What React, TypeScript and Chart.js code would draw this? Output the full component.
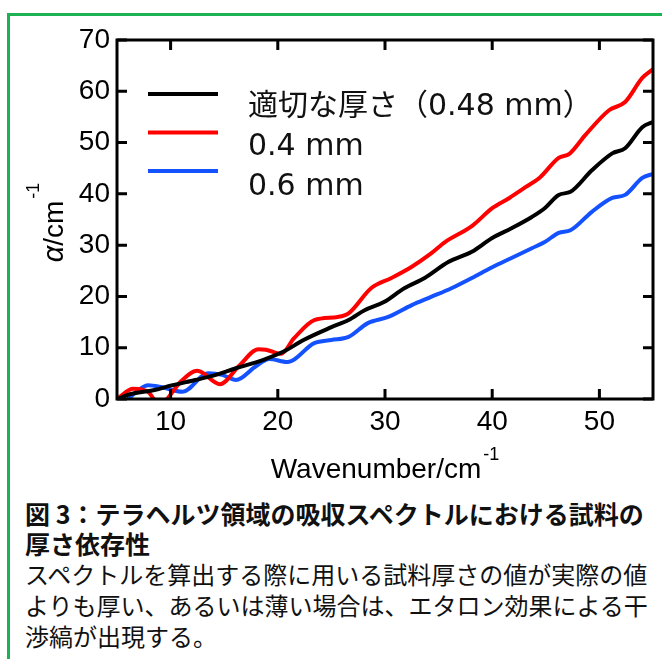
import React, { useEffect, useRef } from "react";
import { Chart, registerables } from "chart.js";

Chart.register(...registerables);

// ---- data ----
const seriesLabels = ["適切な厚さ（0.48 mm）", "0.4 mm", "0.6 mm"];
const seriesColors = ["#000000", "#ff0000", "#1552ff"];

const blackX = [5.1, 6, 8.6, 9.8, 12.3, 13.9, 16.1, 18.6, 20.5, 22.4, 25, 26.6, 28.1, 29.9, 31.8, 33.7, 35.9, 38.1, 40, 41.8, 43.7, 44.9, 46.2, 47.3, 49.3, 51.2, 52.4, 54, 55];
const blackY = [0, 0.8, 1.8, 2.5, 3.7, 4.5, 6.0, 7.6, 9.2, 11.5, 14.0, 15.4, 17.3, 18.9, 21.6, 23.6, 26.7, 28.7, 31.4, 33.3, 35.5, 37.2, 39.8, 40.4, 44.6, 47.9, 48.9, 53.0, 54.0];

const redX = [5.1, 6.5, 7.9, 8.4, 9.05, 9.7, 11, 12.5, 14.6, 16.4, 18.2, 18.9, 20.3, 21.5, 23.4, 25.6, 26.6, 28.7, 30.6, 32.5, 34.3, 35.6, 38.1, 40, 41.6, 43.1, 44.4, 46.2, 47.2, 48.7, 50.9, 52.4, 54, 55];
const redY = [0.2, 2.0, 1.4, 0.1, -1.2, 0.1, 3.5, 5.5, 2.9, 6.5, 9.7, 9.6, 8.8, 11.8, 15.4, 16.0, 16.7, 21.6, 23.6, 25.8, 28.4, 30.6, 33.7, 37.2, 39.2, 41.3, 43.1, 47.0, 47.8, 51.5, 56.3, 57.9, 62.6, 64.3];

const blueX = [6, 7.9, 9.2, 11.1, 13.5, 14.8, 16.1, 17.9, 19.2, 20.9, 23.4, 25, 26.6, 28.4, 30.3, 32.5, 34.3, 36.2, 38.1, 40, 41.8, 43.7, 44.9, 46.2, 47.3, 49.3, 51.2, 52.4, 54, 55];
const blueY = [0, 2.7, 2.3, 1.4, 5.0, 4.7, 3.7, 6.3, 7.8, 7.2, 10.9, 11.5, 12.1, 14.8, 16.0, 18.3, 19.9, 21.6, 23.6, 25.7, 27.5, 29.4, 30.6, 32.4, 32.9, 36.5, 39.2, 39.8, 43.1, 43.9];

const xTicks = [10, 20, 30, 40, 50];
const yTicks = [0, 10, 20, 30, 40, 50, 60, 70];
const xMin = 5;
const xMax = 55;
const yMin = 0;
const yMax = 70;

const captionTitle = ["図 3：テラヘルツ領域の吸収スペクトルにおける試料の", "厚さ依存性"];
const captionBody = [
  "スペクトルを算出する際に用いる試料厚さの値が実際の値",
  "よりも厚い、あるいは薄い場合は、エタロン効果による干",
  "渉縞が出現する。",
];

const zip = (xs: number[], ys: number[]) => xs.map((x, i) => ({ x, y: ys[i] }));

const TICK_FONT = "'Liberation Sans', Arial, sans-serif";

const framePlugin = {
  id: "frameTicks",
  afterDatasetsDraw(chart: any) {
    const { ctx, chartArea } = chart;
    const { left, right, top, bottom } = chartArea;
    const xs = chart.scales.x;
    const ys = chart.scales.y;
    ctx.save();
    ctx.strokeStyle = "#000";
    ctx.lineWidth = 3;
    ctx.lineCap = "butt";
    ctx.strokeRect(left, top, right - left, bottom - top);
    ctx.beginPath();
    for (const v of xTicks) {
      const p = xs.getPixelForValue(v);
      ctx.moveTo(p, bottom);
      ctx.lineTo(p, bottom - 10);
      ctx.moveTo(p, top);
      ctx.lineTo(p, top + 10);
    }
    for (const v of yTicks) {
      const p = ys.getPixelForValue(v);
      ctx.moveTo(left, p);
      ctx.lineTo(left + 10, p);
      ctx.moveTo(right, p);
      ctx.lineTo(right - 10, p);
    }
    ctx.stroke();
    ctx.restore();
  },
  afterDraw(chart: any) {
    const { ctx, chartArea } = chart;
    const { left, right, top, bottom } = chartArea;
    ctx.save();
    ctx.fillStyle = "#000";
    ctx.textBaseline = "alphabetic";
    ctx.textAlign = "left";

    // x title
    const main = "Wavenumber/cm";
    const sup = "-1";
    ctx.font = `28px ${TICK_FONT}`;
    const wMain = ctx.measureText(main).width;
    ctx.font = `18px ${TICK_FONT}`;
    const wSup = ctx.measureText(sup).width;
    const cx = (left + right) / 2;
    const sx = cx - (wMain + 2 + wSup) / 2;
    ctx.font = `28px ${TICK_FONT}`;
    ctx.fillText(main, sx, 478);
    ctx.font = `18px ${TICK_FONT}`;
    ctx.fillText(sup, sx + wMain + 2, 460);

    // y title (rotated)
    ctx.font = `italic 29px ${TICK_FONT}`;
    const wA = ctx.measureText("α").width;
    ctx.font = `28px ${TICK_FONT}`;
    const wC = ctx.measureText("/cm").width;
    ctx.font = `18px ${TICK_FONT}`;
    const wS = ctx.measureText("-1").width;
    const total = wA + wC + 2 + wS;
    const cy = (top + bottom) / 2 + 3;
    ctx.translate(63, cy + total / 2);
    ctx.rotate(-Math.PI / 2);
    ctx.font = `italic 29px ${TICK_FONT}`;
    ctx.fillText("α", 0, 0);
    ctx.font = `28px ${TICK_FONT}`;
    ctx.fillText("/cm", wA, 0);
    ctx.font = `18px ${TICK_FONT}`;
    ctx.fillText("-1", wA + wC + 2, -24);
    ctx.restore();

    // legend
    ctx.save();
    chart.data.datasets.forEach((ds: any, i: number) => {
      const ly = 94 + i * 38.5;
      ctx.strokeStyle = ds.borderColor;
      ctx.lineWidth = 4;
      ctx.beginPath();
      ctx.moveTo(148, ly);
      ctx.lineTo(218, ly);
      ctx.stroke();
      ctx.fillStyle = "#111";
      ctx.font = "30px 'DejaVu Sans', 'Noto Sans CJK JP', sans-serif";
      ctx.textBaseline = "alphabetic";
      ctx.textAlign = "left";
      ctx.fillText(ds.label, 248, 115 + i * 40);
    });
    ctx.restore();
  },
};

export default function App() {
  const ref = useRef<HTMLCanvasElement | null>(null);

  useEffect(() => {
    if (!ref.current) return;
    const datasets = [
      { label: seriesLabels[0], data: zip(blackX, blackY), borderColor: seriesColors[0] },
      { label: seriesLabels[1], data: zip(redX, redY), borderColor: seriesColors[1] },
      { label: seriesLabels[2], data: zip(blueX, blueY), borderColor: seriesColors[2] },
    ].map((d) => ({
      ...d,
      borderWidth: 4,
      pointRadius: 0,
      fill: false,
      showLine: true,
      cubicInterpolationMode: "monotone" as const,
      clip: 0,
    }));

    const chart = new Chart(ref.current, {
      type: "scatter",
      data: { datasets },
      options: {
        animation: false,
        responsive: false,
        maintainAspectRatio: false,
        layout: { padding: { left: 0, right: 9, top: 40, bottom: 0 } },
        plugins: { legend: { display: false }, tooltip: { enabled: false } },
        scales: {
          x: {
            type: "linear",
            min: xMin,
            max: xMax,
            afterBuildTicks: (axis: any) => {
              axis.ticks = xTicks.map((v) => ({ value: v }));
            },
            afterFit: (axis: any) => {
              axis.height = 81;
            },
            grid: { display: false, drawTicks: false },
            border: { display: false },
            ticks: {
              color: "#000",
              font: { family: TICK_FONT, size: 28 },
              padding: 6,
              maxRotation: 0,
              autoSkip: false,
            },
          },
          y: {
            type: "linear",
            min: yMin,
            max: yMax,
            afterBuildTicks: (axis: any) => {
              axis.ticks = yTicks.map((v) => ({ value: v }));
            },
            afterFit: (axis: any) => {
              axis.width = 117;
            },
            grid: { display: false, drawTicks: false },
            border: { display: false },
            ticks: {
              color: "#000",
              font: { family: TICK_FONT, size: 28 },
              padding: 7,
              autoSkip: false,
            },
          },
        },
      },
      plugins: [framePlugin],
    });
    return () => chart.destroy();
  }, []);

  return (
    <div
      style={{
        position: "absolute",
        left: 0,
        top: 0,
        width: 662,
        height: 659,
        overflow: "hidden",
        background: "#fff",
      }}
    >
      <div
        style={{
          position: "absolute",
          left: 7,
          top: 13,
          width: 700,
          height: 700,
          border: "3px solid #1db355",
          boxSizing: "border-box",
        }}
      />
      <canvas
        ref={ref}
        width={662}
        height={480}
        style={{ position: "absolute", left: 0, top: 0, width: 662, height: 480 }}
      />
      <div
        style={{
          position: "absolute",
          left: 25,
          top: 498,
          width: 640,
          fontFamily: "'Noto Sans CJK JP', sans-serif",
          color: "#111",
          whiteSpace: "nowrap",
        }}
      >
        {captionTitle.map((t, i) => (
          <div key={"t" + i} style={{ fontSize: 25, fontWeight: 700, lineHeight: "30px" }}>
            {t}
          </div>
        ))}
        {captionBody.map((t, i) => (
          <div key={"b" + i} style={{ fontSize: 24, lineHeight: "31px" }}>
            {t}
          </div>
        ))}
      </div>
    </div>
  );
}
